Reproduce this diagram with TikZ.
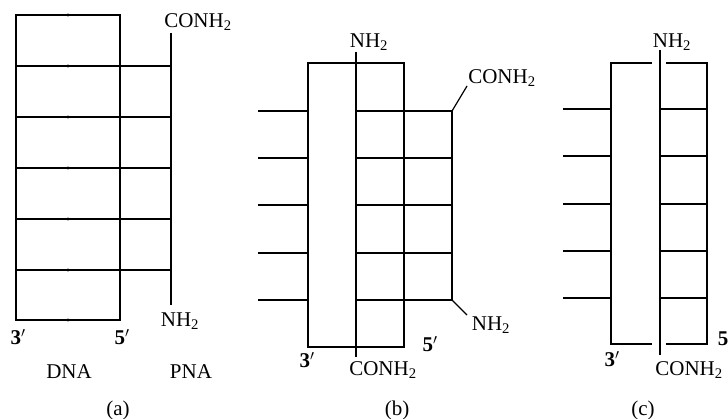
\documentclass[tikz,border=0pt]{standalone}
\usepackage{fontspec}
\setmainfont{Liberation Serif}
\usetikzlibrary{positioning}

\tikzset{
  strand/.style={line width=2.8pt},
  rung/.style={line width=1.6pt},
  lead/.style={line width=1.2pt},
  lbl/.style={inner sep=0pt, font=\fontsize{21}{24}\selectfont},
  endlbl/.style={inner sep=0pt, font=\fontsize{21}{24}\selectfont\bfseries},
}

\begin{document}
\begin{tikzpicture}[x=1pt,y=-1pt]
    \useasboundingbox (0,0) rectangle (728,419);
    % (a) DNA and PNA
    \foreach \y in {66,117,168,219,270}{\draw[rung] (16,\y) -- (171,\y);}
    \draw[rung] (16,15) -- (120,15);
    \draw[rung] (16,320) -- (120,320);
    \foreach \y in {15,66,117,168,219,270,320}{\fill[black] (68,\y) circle (1.6pt);}
    \draw[strand] (16,14.2) -- (16,321.4);
    \draw[strand] (120,14.2) -- (120,321.4);
    \coordinate (pnaAtop) at (171,33);
    \coordinate (pnaAbot) at (171,305);
    \draw[lead] (pnaAtop) -- (pnaAbot);
    \draw[strand] (171,66) -- (171,270);
    \node[lbl] (conhA) at (198,22) {CONH\textsubscript{2}};
    \node[lbl] (nhA) at (180,321) {NH\textsubscript{2}};
    \node[endlbl] (threeA) at (18,337) {3$'$};
    \node[endlbl] (fiveA) at (122,337) {5$'$};
    \node[lbl] (dna) at (69,372) {DNA};
    \node[lbl] (pna) at (191,372) {PNA};
    \node[lbl] (capA) at (118,410) {(a)};

    % (b) triplex
    \foreach \y in {111,158,205,253,300}{\draw[rung] (258,\y) -- (308,\y);}
    \foreach \y in {111,158,205,253,300}{\draw[rung] (356,\y) -- (452,\y);}
    \draw[strand] (308,63) rectangle (404,347);
    \coordinate (midBtop) at (356,52);
    \coordinate (midBbot) at (356,357);
    \draw[lead] (midBtop) -- (midBbot);
    \draw[strand] (356,111) -- (356,300);
    \draw[strand] (452,109.6) -- (452,301.4);
    \coordinate (pnaBtop) at (452,111);
    \coordinate (pnaBbot) at (452,300);
    \coordinate (legBtop) at (467,86);
    \coordinate (legBbot) at (467,315);
    \draw[lead] (pnaBtop) -- (legBtop);
    \draw[lead] (pnaBbot) -- (legBbot);
    \node[lbl] (nhBtop) at (369,42) {NH\textsubscript{2}};
    \node[lbl] (conhBbot) at (383,370) {CONH\textsubscript{2}};
    \node[lbl] (conhBtop) at (502,78) {CONH\textsubscript{2}};
    \node[lbl] (nhBbot) at (491,325) {NH\textsubscript{2}};
    \node[endlbl] (threeB) at (307,360) {3$'$};
    \node[endlbl] (fiveB) at (430,344) {5$'$};
    \node[lbl] (capB) at (397,410) {(b)};

    % (c) strand invasion
    \foreach \y in {109,156,204,251,298}{\draw[rung] (563,\y) -- (611,\y);}
    \foreach \y in {109,156,204,251,298}{\draw[rung] (660,\y) -- (707,\y);}
    \draw[strand] (652,63) -| (611,344) -- (652,344);
    \draw[strand] (666,63) -| (707,344) -- (666,344);
    \coordinate (midCtop) at (660,50);
    \coordinate (midCbot) at (660,355);
    \draw[lead] (midCtop) -- (midCbot);
    \draw[strand] (660,109) -- (660,298);
    \node[lbl] (nhCtop) at (672,42) {NH\textsubscript{2}};
    \node[lbl] (conhCbot) at (689,370) {CONH\textsubscript{2}};
    \node[endlbl] (threeC) at (612,359) {3$'$};
    \node[endlbl] (fiveC) at (723,339) {5};
    \node[lbl] (capC) at (643,410) {(c)};
\end{tikzpicture}
\end{document}
